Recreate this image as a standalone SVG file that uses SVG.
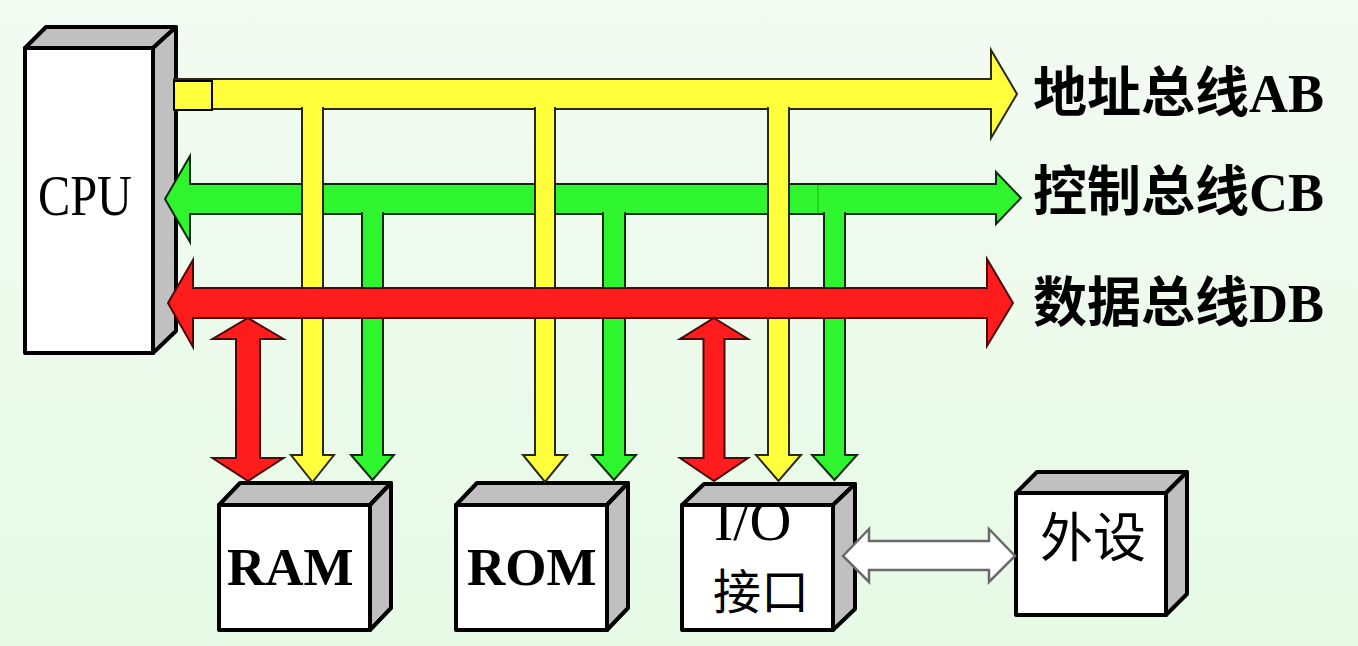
<svg xmlns="http://www.w3.org/2000/svg" width="1358" height="646" viewBox="0 0 1358 646">
<defs>
<linearGradient id="bg" x1="0" y1="0" x2="0" y2="1">
<stop offset="0" stop-color="#f3fbf2"/>
<stop offset="1" stop-color="#e6fae6"/>
</linearGradient>
</defs>
<style>
.front{fill:#ffffff;stroke:#000;stroke-width:4;stroke-linejoin:round}
.side{fill:#c0c0c0;stroke:#000;stroke-width:4;stroke-linejoin:round}
.yel{fill:#ffff3c;stroke:#2a2a10;stroke-width:2}
.grn{fill:#2ef52e;stroke:#0f2a0f;stroke-width:2}
.red{fill:#ff1c1c;stroke:#4a0808;stroke-width:2}
.wht{fill:#ffffff;stroke:#6a6a6a;stroke-width:2.5}
.lat{font-family:"Liberation Serif","Times New Roman",serif}
.cjk{font-family:"Noto Sans CJK SC","Noto Sans CJK TC",sans-serif}
.lbl{font-size:54px;font-weight:bold;fill:#000}
</style>
<rect x="0" y="0" width="1358" height="646" fill="url(#bg)"/>

<g id="cpu">
<rect class="front" x="25" y="48" width="128" height="305"/>
<polygon class="side" points="25,48 46,27 176,27 153,48"/>
<polygon class="side" points="153,48 176,27 176,331 153,353"/>
<text class="lat" x="38" y="215" font-size="57" textLength="94" lengthAdjust="spacingAndGlyphs" fill="#000">CPU</text>
</g>

<g id="ram">
<rect class="front" x="219" y="505" width="151" height="125"/>
<polygon class="side" points="219,505 240,483 391,483 370,505"/>
<polygon class="side" points="370,505 391,483 391,608 370,630"/>
<text class="lat" x="227" y="585" font-size="53" font-weight="bold" fill="#000">RAM</text>
</g>

<g id="rom">
<rect class="front" x="456" y="505" width="151" height="125"/>
<polygon class="side" points="456,505 477,483 628,483 607,505"/>
<polygon class="side" points="607,505 628,483 628,608 607,630"/>
<text class="lat" x="467" y="585" font-size="53" font-weight="bold" fill="#000">ROM</text>
</g>

<g id="io">
<rect class="front" x="682" y="505" width="151" height="125"/>
<text class="lat" x="714" y="540" font-size="58" fill="#000">I/O</text>
<text class="cjk" x="713" y="609" font-size="48" fill="#000">接口</text>
<polygon class="side" points="682,505 704,484 855,484 833,505"/>
<polygon class="side" points="833,505 855,484 855,609 833,630"/>
</g>

<g id="peripheral">
<rect class="front" x="1016" y="493" width="150" height="122"/>
<polygon class="side" points="1016,493 1037,472 1187,472 1166,493"/>
<polygon class="side" points="1166,493 1187,472 1187,594 1166,615"/>
<text class="cjk" x="1040" y="557" font-size="53" fill="#000">外设</text>
</g>

<g id="connectors">
<path class="yel" d="M174,79 H991 V50 L1017,94 L991,138 V109 H174 Z"/>
<rect x="174" y="81" width="38" height="29" fill="#ffff3c" stroke="#000" stroke-width="2"/>
<path class="grn" d="M821,184 H190 V156 L165,199 L190,242 V214 H821"/>
<path class="grn" d="M818,184 H996 V172 L1021,198 L996,224 V214 H818"/>
<line x1="818" y1="185" x2="818" y2="213" stroke="#1ccc1c" stroke-width="1.5"/>
<path class="yel" d="M302,107 V455 H291 L312.5,482 L334,455 H323 V107"/>
<path class="yel" d="M535,107 V455 H523 L545,482 L567,455 H555 V107"/>
<path class="yel" d="M768,107 V455 H756 L778.5,481 L801,455 H789 V107"/>
<path class="grn" d="M362,212 V455 H351 L372.5,480 L394,455 H383 V212"/>
<path class="grn" d="M603,212 V455 H592 L614,480 L636,455 H625 V212"/>
<path class="grn" d="M824,212 V455 H812 L834.5,480 L857,455 H845 V212"/>
<path class="red" d="M193,288 H987 V259 L1013,303 L987,346 V318 H193 V347 L168,303 L193,260 Z"/>
<path class="red" d="M248,318 L283.5,339 H260 V458 H283.5 L248,481 L212.5,458 H236 V339 H212.5 Z"/>
<path class="red" d="M714,318 L748,339 H724.5 V458 H748 L714,481 L680,458 H703.5 V339 H680 Z"/>
<path class="wht" d="M843,556 L869,529 V541 H989 V529 L1015,556 L989,582 V570 H869 V582 Z"/>
</g>

<g id="labels">
<text class="lbl" x="1033" y="112"><tspan class="cjk">地址总线</tspan><tspan class="lat">AB</tspan></text>
<text class="lbl" x="1033" y="211"><tspan class="cjk">控制总线</tspan><tspan class="lat">CB</tspan></text>
<text class="lbl" x="1033" y="322"><tspan class="cjk">数据总线</tspan><tspan class="lat">DB</tspan></text>
</g>
</svg>
